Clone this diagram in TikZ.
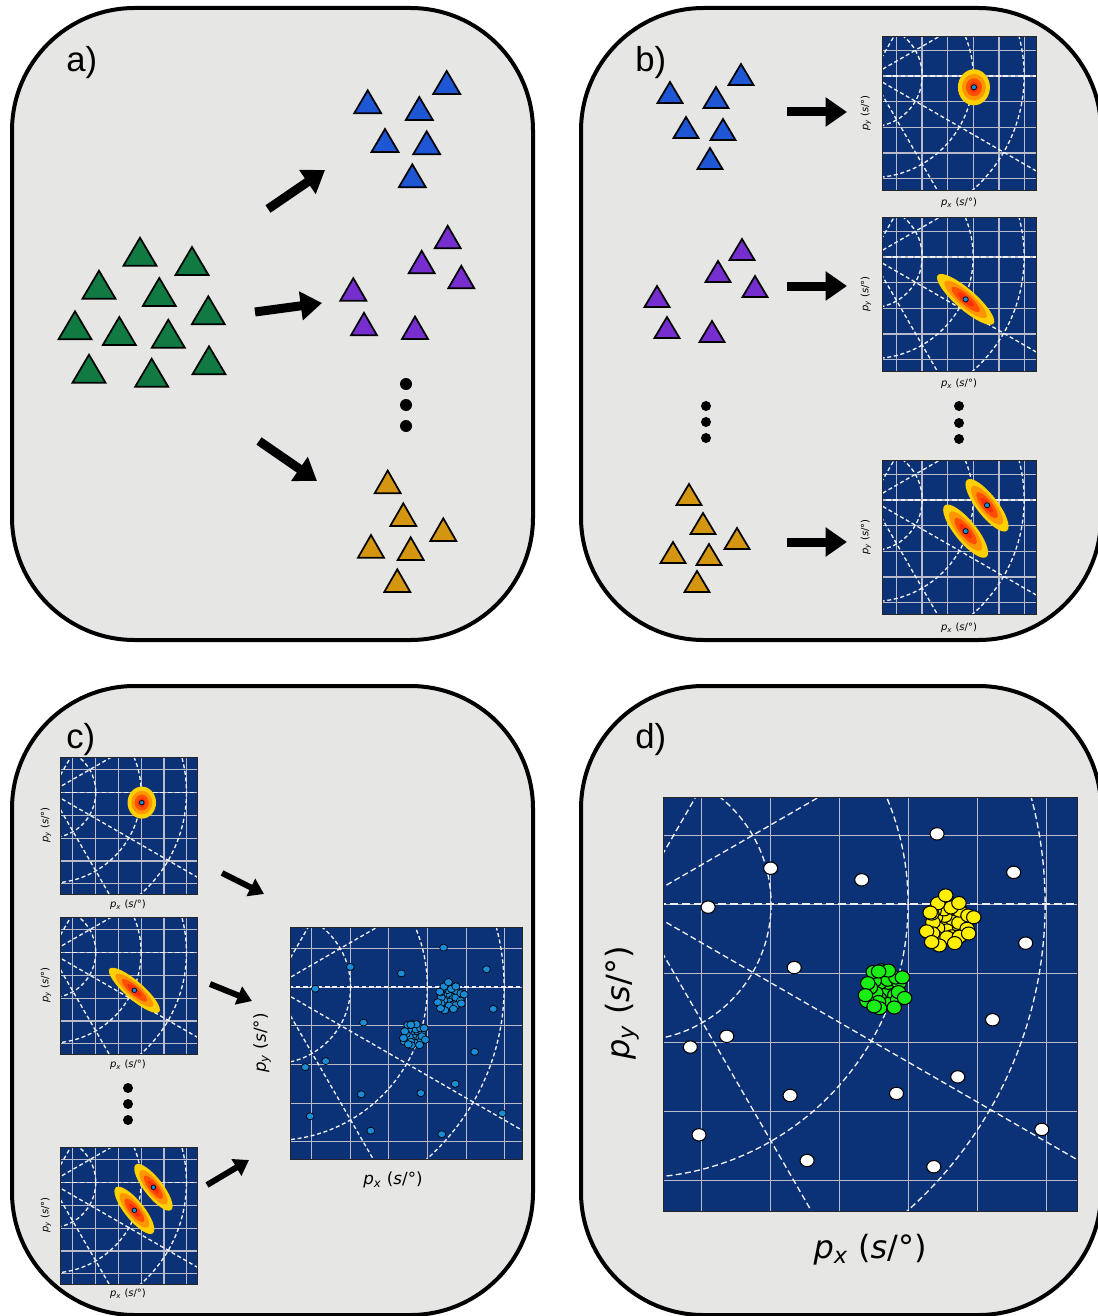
\documentclass[tikz,border=0pt]{standalone}
\usepackage{fontspec}
\setmainfont{Liberation Sans}
\newfontfamily\axfont{DejaVu Sans}
\usetikzlibrary{arrows.meta}

\definecolor{panelgray}{RGB}{230,230,229}
\definecolor{plotblue}{RGB}{11,49,119}
\definecolor{gridgray}{RGB}{185,188,200}
\definecolor{dashwhite}{RGB}{240,240,244}
\definecolor{trigreen}{RGB}{16,122,66}
\definecolor{triblue}{RGB}{30,86,212}
\definecolor{tripurple}{RGB}{118,46,206}
\definecolor{triorange}{RGB}{212,150,16}
\definecolor{blobyellow}{RGB}{255,208,0}
\definecolor{bloborange}{RGB}{255,150,0}
\definecolor{blobred}{RGB}{255,80,0}
\definecolor{blobdeep}{RGB}{250,45,10}
\definecolor{dotcyan}{RGB}{24,140,214}
\definecolor{dotyellow}{RGB}{255,240,0}
\definecolor{dotgreen}{RGB}{24,238,20}

\tikzset{
  panel/.style={draw=black, line width=3pt, fill=panelgray, rounded corners=92pt},
  tri/.style={draw=black, line width=1.3pt, line join=miter},
  bigarrow/.style={line width=6.75pt, -{Triangle[width=21pt,length=16pt]}},
  smallarrow/.style={line width=4.5pt, -{Triangle[width=14pt,length=11pt]}},
  vdot/.style={circle, fill=black, inner sep=0pt, minimum size=#1},
  plotframe/.style={draw=black!85, line width=0.6pt},
  smallplot/.style={
    gridline/.style={draw=gridgray, line width=0.9pt},
    polarline/.style={draw=dashwhite, line width=1pt, dash pattern=on 3pt off 2pt},
    zeroline/.style={draw=dashwhite, line width=1.2pt, dash pattern=on 3.5pt off 2pt},
    dotmark/.style={draw=black, line width=0.5pt}},
  bigplot/.style={
    gridline/.style={draw=gridgray, line width=0.8pt},
    polarline/.style={draw=dashwhite, line width=1pt, dash pattern=on 4.5pt off 2.5pt},
    zeroline/.style={draw=dashwhite, line width=1.3pt, dash pattern=on 6pt off 3pt},
    dotmark/.style={draw=black, line width=0.8pt}},
  panellabel/.style={font=\fontsize{26}{30}\selectfont, anchor=base west, inner sep=0pt},
  axsmall/.style={font=\axfont\fontsize{7.5}{9}\selectfont, inner sep=0pt},
  axmid/.style={font=\axfont\fontsize{12.5}{15}\selectfont, inner sep=0pt},
  axbig/.style={font=\axfont\fontsize{24}{28}\selectfont, inner sep=0pt},
}

\newcommand\pxlab{\textit{p}\textsubscript{\textit{x}} (\textit{s}/°)}
\newcommand\pylab{\textit{p}\textsubscript{\textit{y}} (\textit{s}/°)}

% triangle given by base centre, width, height, colour
\newcommand\tri[5]{\filldraw[tri, fill=#5] ({#1-#3/2},#2) -- ({#1+#3/2},#2) -- (#1,{#2-#4}) -- cycle;}

% slowness plot: blue square with grid and polar (distance/azimuth) guides
\newcommand\plotarea[5]{%
  \begin{scope}[shift={(#1,#2)}, scale=#3, #4]
    \fill[plotblue] (0,0) rectangle (1,1);
    \begin{scope}
      \clip (0,0) rectangle (1,1);
      \foreach \k in {0,...,5}{
        \draw[gridline] (0,{0.0925+\k/6}) -- (1,{0.0925+\k/6});
        \draw[gridline] ({0.0925+\k/6},0) -- ({0.0925+\k/6},1);}
      \foreach \r in {0.331,0.662,0.993}
        {\draw[polarline] (-0.07,0.258) circle[radius=\r];}
      \foreach \a in {30,-30,60,-60}
        {\draw[polarline] (-0.07,0.258) -- ++(\a:2);}
      \draw[zeroline] (-0.07,0.258) -- ++(0:2);
      #5
    \end{scope}
    \draw[plotframe] (0,0) rectangle (1,1);
  \end{scope}}

% confidence blob: centre, semi-axes, rotation
\newcommand\blob[5]{%
  \begin{scope}[shift={(#1,#2)}, rotate=#5]
    \fill[blobyellow] (0,0) ellipse[x radius=#3, y radius=#4];
    \fill[bloborange] (0,0) ellipse[x radius={0.74*#3}, y radius={0.74*#4}];
    \fill[blobred] (0,0) ellipse[x radius={0.5*#3}, y radius={0.5*#4}];
    \fill[blobdeep] (0,0) ellipse[x radius={0.28*#3}, y radius={0.28*#4}];
  \end{scope}}
\newcommand\pdot[2]{\filldraw[dotmark, fill=dotcyan] (#1,#2) circle[radius=0.017];}

\newcommand\oneblob{\blob{0.597}{0.333}{0.104}{0.117}{0}\pdot{0.597}{0.333}}
\newcommand\longblob{\blob{0.543}{0.535}{0.24}{0.066}{-41}\pdot{0.543}{0.535}}
\newcommand\twoblobs{\blob{0.682}{0.294}{0.21}{0.068}{-52}\blob{0.543}{0.462}{0.215}{0.07}{-51}%
  \pdot{0.682}{0.294}\pdot{0.543}{0.462}}

% isolated detections
\newcommand\scatterpts[1]{%
  \foreach \u/\v in {0.662/0.089, 0.260/0.172, 0.480/0.200, 0.847/0.182, 0.109/0.266,
      0.876/0.353, 0.317/0.412, 0.796/0.538, 0.154/0.578, 0.066/0.604, 0.712/0.676,
      0.564/0.716, 0.307/0.721, 0.087/0.816, 0.915/0.803, 0.348/0.878, 0.654/0.893}
    {\filldraw[dotmark, fill=#1] (\u,\v) ellipse[x radius=0.017, y radius=0.015];}}

% packed group of detections
\newcommand\cluster[6]{%
  \pgfmathsetseed{#6}%
  \foreach \i in {1,...,#4}{%
    \pgfmathsetmacro\clR{#5*sqrt((\i-0.5)/#4)}%
    \pgfmathsetmacro\clT{\i*137.508}%
    \pgfmathsetmacro\clX{#1+\clR*cos(\clT)+0.009*rand}%
    \pgfmathsetmacro\clY{#2+\clR*sin(\clT)+0.009*rand}%
    \filldraw[dotmark, fill=#3] (\clX,\clY) ellipse[x radius=0.0175, y radius=0.0158];}}

\begin{document}
\begin{tikzpicture}[x=0.75pt, y=-0.75pt]
\useasboundingbox (0,0) rectangle (1097,1316);
\fill[white] (0,0) rectangle (1097,1316);

% ---------- panels ----------
\draw[panel] (12,8) rectangle (533,640);
\draw[panel] (581,8) rectangle (1101,640);
\draw[panel] (12,686) rectangle (533,1315);
\draw[panel] (581,686) rectangle (1101,1315);

\node[panellabel] (la) at (66,72) {a)};
\node[panellabel] (lb) at (635,72) {b)};
\node[panellabel] (lc) at (66,748) {c)};
\node[panellabel] (ld) at (635,748) {d)};

% ---------- panel a ----------
\foreach \x/\y in {140/265.7, 192/275, 99/298.7, 159.3/306, 208.3/324.3, 75/339.3,
    119.3/345, 168.3/347.7, 209/374.3, 89/382.7, 151.7/386.7}
  {\tri{\x}{\y}{33}{28}{trigreen}}
\foreach \x/\y in {446.7/94, 367.7/113.3, 419.3/120, 385/152, 426.7/154.3, 412.3/187.3}
  {\tri{\x}{\y}{27}{23}{triblue}}
\foreach \x/\y in {447.7/248.3, 421.7/273.3, 461.3/288.3, 353.3/300.7, 364/335.3, 415/339}
  {\tri{\x}{\y}{26}{22.5}{tripurple}}
\foreach \x/\y in {387.7/493.3, 403.3/526, 443.3/541, 371/557.7, 410.7/560, 397.3/592}
  {\tri{\x}{\y}{26}{22.7}{triorange}}

\coordinate (a1s) at (268,209); \coordinate (a1e) at (325,170);
\coordinate (a2s) at (255,312); \coordinate (a2e) at (322,303);
\coordinate (a3s) at (259,441); \coordinate (a3e) at (317,481);
\draw[bigarrow] (a1s) -- (a1e);
\draw[bigarrow] (a2s) -- (a2e);
\draw[bigarrow] (a3s) -- (a3e);

\node[vdot=9pt] (ad1) at (406,384) {};
\node[vdot=9pt] (ad2) at (406,405) {};
\node[vdot=9pt] (ad3) at (406,426) {};

% ---------- panel b ----------
\foreach \x/\y in {741/85, 670/103, 716/108, 686/138, 723/140, 710/169}
  {\tri{\x}{\y}{25}{21}{triblue}}
\foreach \x/\y in {742/260, 718/282, 755/297, 657/307, 667/338, 712/342}
  {\tri{\x}{\y}{25}{21}{tripurple}}
\foreach \x/\y in {689/505, 703/534, 737/549, 673/563, 709/565, 697/592}
  {\tri{\x}{\y}{25}{21}{triorange}}

\coordinate (b1s) at (787,112); \coordinate (b1e) at (847,112);
\coordinate (b2s) at (787,286); \coordinate (b2e) at (847,286);
\coordinate (b3s) at (787,542); \coordinate (b3e) at (847,542);
\draw[bigarrow] (b1s) -- (b1e);
\draw[bigarrow] (b2s) -- (b2e);
\draw[bigarrow] (b3s) -- (b3e);

\plotarea{882}{36}{154}{smallplot}{\oneblob}
\plotarea{882}{217}{154}{smallplot}{\longblob}
\plotarea{882}{460}{154}{smallplot}{\twoblobs}
\node[axsmall] (bx1) at (959,203) {\pxlab};
\node[axsmall] (bx2) at (959,384) {\pxlab};
\node[axsmall] (bx3) at (959,628) {\pxlab};
\node[axsmall, rotate=90] (by1) at (866,113) {\pylab};
\node[axsmall, rotate=90] (by2) at (866,294) {\pylab};
\node[axsmall, rotate=90] (by3) at (866,537) {\pylab};

\node[vdot=7.5pt] (bd1) at (706,406) {};
\node[vdot=7.5pt] (bd2) at (706,422) {};
\node[vdot=7.5pt] (bd3) at (706,438) {};
\node[vdot=7.5pt] (bd4) at (959,406) {};
\node[vdot=7.5pt] (bd5) at (959,423) {};
\node[vdot=7.5pt] (bd6) at (959,439) {};

% ---------- panel c ----------
\plotarea{60}{757}{137}{smallplot}{\oneblob}
\plotarea{60}{917}{137}{smallplot}{\longblob}
\plotarea{60}{1147}{137}{smallplot}{\twoblobs}
\node[axsmall] (cx1) at (128,905) {\pxlab};
\node[axsmall] (cx2) at (128,1065) {\pxlab};
\node[axsmall] (cx3) at (128,1294) {\pxlab};
\node[axsmall, rotate=90] (cy1) at (46,825) {\pylab};
\node[axsmall, rotate=90] (cy2) at (46,985) {\pylab};
\node[axsmall, rotate=90] (cy3) at (46,1215) {\pylab};

\node[vdot=7.5pt] (cd1) at (128,1088) {};
\node[vdot=7.5pt] (cd2) at (128,1104) {};
\node[vdot=7.5pt] (cd3) at (128,1120) {};

\coordinate (c1s) at (222,873); \coordinate (c1e) at (264,894);
\coordinate (c2s) at (210,984); \coordinate (c2e) at (252,1001);
\coordinate (c3s) at (207,1185); \coordinate (c3e) at (249,1160);
\draw[smallarrow] (c1s) -- (c1e);
\draw[smallarrow] (c2s) -- (c2e);
\draw[smallarrow] (c3s) -- (c3e);

\plotarea{290}{927}{232}{smallplot}{%
  \scatterpts{dotcyan}
  \cluster{0.688}{0.304}{dotcyan}{36}{0.058}{7}
  \cluster{0.532}{0.463}{dotcyan}{30}{0.053}{11}}
\node[axmid] (cpx) at (393,1180) {\pxlab};
\node[axmid, rotate=90] (cpy) at (262,1043) {\pylab};

% ---------- panel d ----------
\plotarea{663}{797}{414}{bigplot}{%
  \scatterpts{white}
  \cluster{0.688}{0.304}{dotyellow}{36}{0.058}{7}
  \cluster{0.532}{0.463}{dotgreen}{30}{0.053}{11}}
\node[axbig] (dpx) at (870,1250) {\pxlab};
\node[axbig, rotate=90] (dpy) at (622,1003) {\pylab};
\end{tikzpicture}
\end{document}
